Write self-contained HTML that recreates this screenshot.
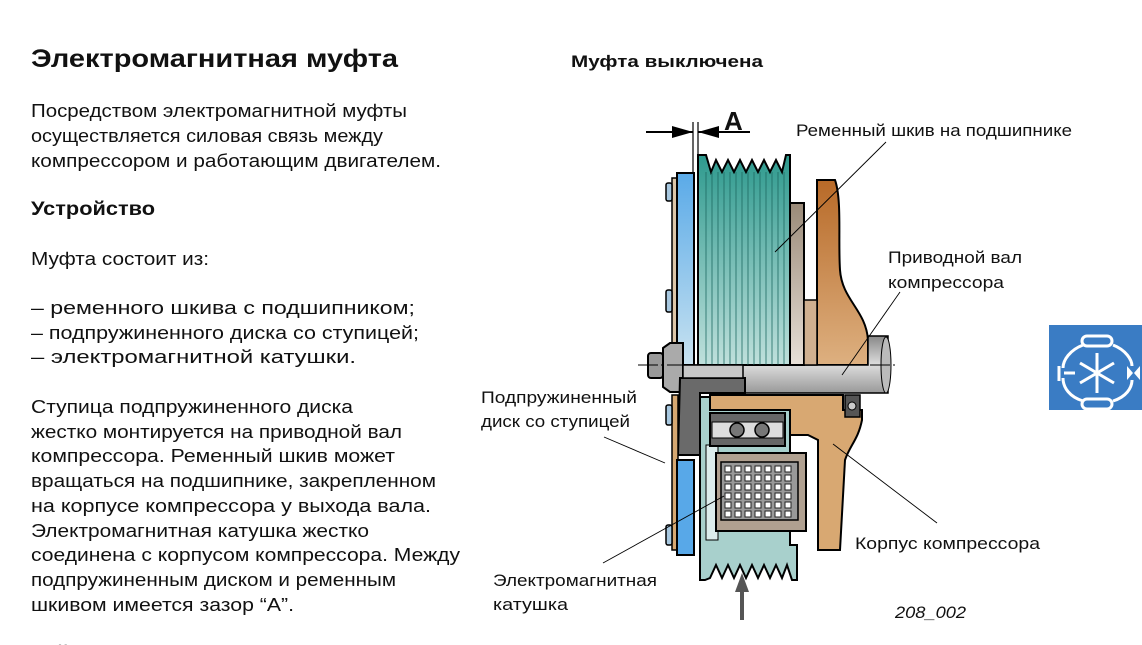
<!DOCTYPE html>
<html><head><meta charset="utf-8"><style>
html,body{margin:0;padding:0;background:#fff;}
svg{display:block;}
text{font-family:"Liberation Sans","DejaVu Sans",sans-serif;fill:#111;}
</style></head><body>
<svg width="1142" height="645" viewBox="0 0 1142 645" xmlns="http://www.w3.org/2000/svg">
<defs>
<linearGradient id="blue" x1="0" y1="0" x2="0" y2="1"><stop offset="0" stop-color="#5aaae8"/><stop offset="1" stop-color="#c8e2f0"/></linearGradient>
<linearGradient id="teal" x1="0" y1="0" x2="0" y2="1"><stop offset="0" stop-color="#2e9a8e"/><stop offset="1" stop-color="#bfe0dc"/></linearGradient>
<linearGradient id="brn" x1="0" y1="0" x2="0" y2="1"><stop offset="0" stop-color="#9a8a78"/><stop offset="1" stop-color="#e8e0d8"/></linearGradient>
<linearGradient id="org" x1="0" y1="0" x2="0" y2="1"><stop offset="0" stop-color="#b86a28"/><stop offset="1" stop-color="#ddb080"/></linearGradient>
<linearGradient id="shaft" x1="0" y1="0" x2="0" y2="1"><stop offset="0" stop-color="#888"/><stop offset="0.5" stop-color="#ddd"/><stop offset="1" stop-color="#999"/></linearGradient>
</defs>

<text x="31" y="67" font-size="25" font-weight="bold" textLength="367" lengthAdjust="spacingAndGlyphs">Электромагнитная муфта</text>
<g font-size="18">
<text x="31" y="117" textLength="376" lengthAdjust="spacingAndGlyphs">Посредством электромагнитной муфты</text>
<text x="31" y="142" textLength="352" lengthAdjust="spacingAndGlyphs">осуществляется силовая связь между</text>
<text x="31" y="167" textLength="410" lengthAdjust="spacingAndGlyphs">компрессором и работающим двигателем.</text>
</g>
<text x="31" y="215" font-size="19" font-weight="bold" textLength="124" lengthAdjust="spacingAndGlyphs">Устройство</text>
<g font-size="18">
<text x="31" y="265" textLength="178" lengthAdjust="spacingAndGlyphs">Муфта состоит из:</text>
<text x="31" y="314" textLength="384" lengthAdjust="spacingAndGlyphs">–  ременного шкива с подшипником;</text>
<text x="31" y="339" textLength="388" lengthAdjust="spacingAndGlyphs">–  подпружиненного диска со ступицей;</text>
<text x="31" y="363" textLength="325" lengthAdjust="spacingAndGlyphs">–  электромагнитной катушки.</text>
<text x="31" y="413" textLength="322" lengthAdjust="spacingAndGlyphs">Ступица подпружиненного диска</text>
<text x="31" y="438" textLength="371" lengthAdjust="spacingAndGlyphs">жестко монтируется на приводной вал</text>
<text x="31" y="462" textLength="364" lengthAdjust="spacingAndGlyphs">компрессора. Ременный шкив может</text>
<text x="31" y="487" textLength="405" lengthAdjust="spacingAndGlyphs">вращаться на подшипнике, закрепленном</text>
<text x="31" y="512" textLength="400" lengthAdjust="spacingAndGlyphs">на корпусе компрессора у выхода вала.</text>
<text x="31" y="537" textLength="338" lengthAdjust="spacingAndGlyphs">Электромагнитная катушка жестко</text>
<text x="31" y="561" textLength="429" lengthAdjust="spacingAndGlyphs">соединена с корпусом компрессора. Между</text>
<text x="31" y="586" textLength="365" lengthAdjust="spacingAndGlyphs">подпружиненным диском и ременным</text>
<text x="31" y="611" textLength="263" lengthAdjust="spacingAndGlyphs">шкивом имеется зазор “A”.</text>
</g>
<text x="31" y="660" font-size="20" font-weight="bold">Действие</text>

<text x="571" y="67" font-size="17" font-weight="bold" textLength="192" lengthAdjust="spacingAndGlyphs">Муфта выключена</text>

<line x1="693" y1="122" x2="693" y2="175" stroke="#000" stroke-width="1.2"/>
<line x1="698" y1="122" x2="698" y2="158" stroke="#000" stroke-width="1.2"/>
<line x1="646" y1="132" x2="693" y2="132" stroke="#000" stroke-width="2"/>
<polygon points="693,132 672,126 672,138" fill="#000"/>
<line x1="698" y1="132" x2="750" y2="132" stroke="#000" stroke-width="2"/>
<polygon points="698,132 719,126 719,138" fill="#000"/>
<text x="724" y="130" font-size="26" font-weight="bold">A</text>

<g stroke="#000" stroke-width="2">
<path d="M817,180 L835,180 C842,200 838,240 840,270 C842,300 866,310 868,340 L868,365 L817,365 Z" fill="url(#org)"/>
<path d="M700,397 L790,397 L790,545 L797,545 L797,580 L792,580 L787,565 L782,578 L776,565 L770,578 L764,565 L758,578 L752,565 L746,578 L740,565 L734,578 L728,565 L722,578 L716,565 L710,578 L705,580 L700,580 Z" fill="#a8d0cc"/>
<rect x="706" y="445" width="12" height="95" fill="#dcecec" stroke-width="1"/>
<path d="M710,395 L843,395 L843,410 L862,410 L862,420 C858,440 850,445 845,460 L840,550 L818,550 L818,440 L808,435 L790,435 L790,410 L710,410 Z" fill="#d8a872"/>
<path d="M868,336 L888,336 L888,393 L680,393 L680,365 L868,365 Z" fill="url(#shaft)" stroke-width="1.5"/>
<ellipse cx="886" cy="365" rx="5" ry="28" fill="#bbb" stroke-width="1"/>
<rect x="789" y="203" width="15" height="162" fill="url(#brn)"/>
<rect x="804" y="300" width="13" height="65" fill="#d0b090" stroke-width="1.5"/>
<rect x="672" y="178" width="6" height="187" fill="#dcc6a8" stroke-width="1.5"/>
<rect x="666" y="183" width="6" height="18" rx="2" fill="#a8c8e0" stroke-width="1.5"/>
<rect x="666" y="290" width="6" height="22" rx="2" fill="#a8c8e0" stroke-width="1.5"/>
<rect x="677" y="173" width="17" height="192" fill="url(#blue)"/>
<path d="M698,155 L706,155 L711,172 L716,160 L722,172 L728,160 L734,172 L740,160 L746,172 L752,160 L758,172 L764,160 L770,172 L776,160 L782,172 L786,155 L790,155 L790,365 L698,365 Z" fill="url(#teal)"/>
</g>
<g stroke="#1e6a62" stroke-width="0.8">
<line x1="706" y1="172" x2="706" y2="365"/><line x1="712" y1="172" x2="712" y2="365"/><line x1="718" y1="172" x2="718" y2="365"/><line x1="724" y1="172" x2="724" y2="365"/><line x1="730" y1="172" x2="730" y2="365"/><line x1="736" y1="172" x2="736" y2="365"/><line x1="742" y1="172" x2="742" y2="365"/><line x1="748" y1="172" x2="748" y2="365"/><line x1="754" y1="172" x2="754" y2="365"/><line x1="760" y1="172" x2="760" y2="365"/><line x1="766" y1="172" x2="766" y2="365"/><line x1="772" y1="172" x2="772" y2="365"/><line x1="778" y1="172" x2="778" y2="365"/><line x1="784" y1="172" x2="784" y2="365"/>
</g>

<g stroke="#000" stroke-width="2">
<rect x="648" y="353" width="15" height="25" rx="3" fill="#999"/>
<path d="M663,348 L670,343 L683,343 L683,392 L670,392 L663,387 Z" fill="#aaa"/>
<path d="M680,378 L745,378 L745,393 L700,393 L700,455 L678,455 Z" fill="#6a6a6a"/>
<rect x="683" y="365" width="60" height="13" fill="#c8c8c8" stroke-width="1.5"/>
<rect x="672" y="395" width="6" height="155" fill="#d6a872" stroke-width="1.5"/>
<rect x="666" y="405" width="6" height="20" rx="2" fill="#a8c8e0" stroke-width="1.5"/>
<rect x="666" y="525" width="6" height="20" rx="2" fill="#a8c8e0" stroke-width="1.5"/>
<rect x="677" y="460" width="17" height="95" fill="#58a8e8"/>
<rect x="710" y="413" width="75" height="33" fill="#666"/>
<rect x="712" y="422" width="71" height="16" fill="#ddd" stroke-width="1"/>
<circle cx="737" cy="430" r="7" fill="#777" stroke-width="1.5"/>
<circle cx="762" cy="430" r="7" fill="#777" stroke-width="1.5"/>
<rect x="716" y="453" width="90" height="78" fill="#b0a090"/>
<rect x="721" y="462" width="77" height="58" fill="#999" stroke-width="1.5"/>
<rect x="845" y="395" width="15" height="22" fill="#555" stroke-width="1.5"/>
<circle cx="852" cy="406" r="4" fill="#ccc" stroke-width="1"/>
</g>
<g fill="#fff" stroke="#222" stroke-width="1">
<path d="M725,466h6v6h-6zM735,466h6v6h-6zM745,466h6v6h-6zM755,466h6v6h-6zM765,466h6v6h-6zM775,466h6v6h-6zM785,466h6v6h-6z
M725,475h6v6h-6zM735,475h6v6h-6zM745,475h6v6h-6zM755,475h6v6h-6zM765,475h6v6h-6zM775,475h6v6h-6zM785,475h6v6h-6z
M725,484h6v6h-6zM735,484h6v6h-6zM745,484h6v6h-6zM755,484h6v6h-6zM765,484h6v6h-6zM775,484h6v6h-6zM785,484h6v6h-6z
M725,493h6v6h-6zM735,493h6v6h-6zM745,493h6v6h-6zM755,493h6v6h-6zM765,493h6v6h-6zM775,493h6v6h-6zM785,493h6v6h-6z
M725,502h6v6h-6zM735,502h6v6h-6zM745,502h6v6h-6zM755,502h6v6h-6zM765,502h6v6h-6zM775,502h6v6h-6zM785,502h6v6h-6z
M725,511h6v6h-6zM735,511h6v6h-6zM745,511h6v6h-6zM755,511h6v6h-6zM765,511h6v6h-6zM775,511h6v6h-6zM785,511h6v6h-6z"/>
</g>
<line x1="638" y1="365" x2="895" y2="365" stroke="#000" stroke-width="1" stroke-dasharray="20,3,3,3"/>
<line x1="742" y1="620" x2="742" y2="590" stroke="#555" stroke-width="4"/>
<polygon points="742,573 735,592 749,592" fill="#555"/>

<g stroke="#000" stroke-width="0.9">
<line x1="886" y1="142" x2="775" y2="252"/>
<line x1="900" y1="292" x2="842" y2="375"/>
<line x1="665" y1="463" x2="604" y2="437"/>
<line x1="724" y1="496" x2="603" y2="563"/>
<line x1="833" y1="444" x2="937" y2="523"/>
</g>
<g font-size="17">
<text x="796" y="136" textLength="276" lengthAdjust="spacingAndGlyphs">Ременный шкив на подшипнике</text>
<text x="888" y="263" textLength="134" lengthAdjust="spacingAndGlyphs">Приводной вал</text>
<text x="888" y="288" textLength="116" lengthAdjust="spacingAndGlyphs">компрессора</text>
<text x="481" y="403" textLength="156" lengthAdjust="spacingAndGlyphs">Подпружиненный</text>
<text x="481" y="427" textLength="149" lengthAdjust="spacingAndGlyphs">диск со ступицей</text>
<text x="855" y="549" textLength="185" lengthAdjust="spacingAndGlyphs">Корпус компрессора</text>
<text x="493" y="586" textLength="164" lengthAdjust="spacingAndGlyphs">Электромагнитная</text>
<text x="493" y="610" textLength="75" lengthAdjust="spacingAndGlyphs">катушка</text>
<text x="895" y="618" font-style="italic" textLength="71" lengthAdjust="spacingAndGlyphs">208_002</text>
</g>

<rect x="1049" y="325" width="93" height="85" fill="#3a7cc4"/>
<g stroke="#fff" stroke-width="3" fill="none">
<path d="M1083,345 C1070,350 1063,360 1063,368 M1063,378 C1063,388 1070,397 1083,401"/>
<path d="M1113,345 C1126,350 1132,360 1132,366 M1132,380 C1132,388 1126,397 1113,401"/>
<rect x="1082" y="336" width="30" height="10" rx="5"/>
<rect x="1082" y="399" width="30" height="10" rx="5"/>
<line x1="1064" y1="373" x2="1075" y2="373"/>
<line x1="1059" y1="366" x2="1059" y2="381"/>
<line x1="1097" y1="353" x2="1097" y2="393"/>
<line x1="1080" y1="363" x2="1114" y2="383"/>
<line x1="1080" y1="383" x2="1114" y2="363"/>
</g>
<polygon points="1127,366 1133,373 1127,380" fill="#fff"/>
<polygon points="1140,366 1134,373 1140,380" fill="#fff"/>
</svg>
</body></html>
